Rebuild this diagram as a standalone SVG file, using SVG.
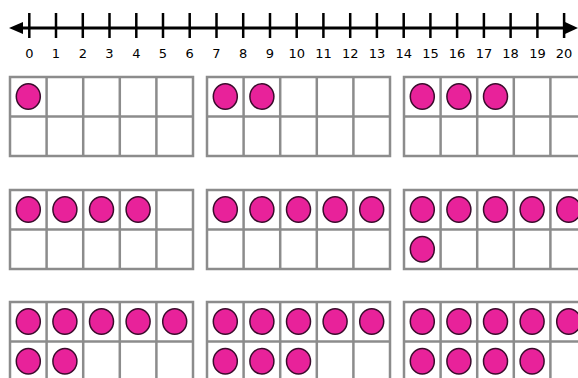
<svg xmlns="http://www.w3.org/2000/svg" xmlns:xlink="http://www.w3.org/1999/xlink" width="578" height="378" viewBox="0 0 578 378">
<style>
.ax{stroke:#000;stroke-width:3;fill:none}
.tk{stroke:#000;stroke-width:2.5}
.lb{font-family:"Comic Sans MS","DejaVu Sans","Liberation Sans",sans-serif;font-size:13px;fill:#000;text-anchor:middle}
.fr{fill:#fff;stroke:#8c8c8c;stroke-width:2.5}
.gl{stroke:#8c8c8c;stroke-width:2.5}
.dot{fill:#e8229a;stroke:#3a0c2c;stroke-width:1.5}
</style>
<defs>
<g id="frame">
<rect class="fr" x="0" y="0" width="183" height="79"/>
<line class="gl" x1="0" y1="39.5" x2="183" y2="39.5"/>
<line class="gl" x1="36.6" y1="0" x2="36.6" y2="79"/>
<line class="gl" x1="73.2" y1="0" x2="73.2" y2="79"/>
<line class="gl" x1="109.8" y1="0" x2="109.8" y2="79"/>
<line class="gl" x1="146.4" y1="0" x2="146.4" y2="79"/>
</g>
<ellipse id="d" class="dot" cx="0" cy="0" rx="12" ry="12.8"/>
</defs>
<rect width="578" height="378" fill="#fff"/>
<g id="numberline">
<line class="ax" x1="18" y1="28" x2="572" y2="28"/>
<polygon points="9,28 23,22 23,34" fill="#000"/>
<polygon points="578,28 565,22 565,34" fill="#000"/>
<g class="tk">
<line x1="29.3" y1="13" x2="29.3" y2="38"/><line x1="56" y1="13" x2="56" y2="38"/><line x1="82.8" y1="13" x2="82.8" y2="38"/><line x1="109.5" y1="13" x2="109.5" y2="38"/><line x1="136.3" y1="13" x2="136.3" y2="38"/><line x1="163" y1="13" x2="163" y2="38"/><line x1="189.7" y1="13" x2="189.7" y2="38"/><line x1="216.5" y1="13" x2="216.5" y2="38"/><line x1="243.2" y1="13" x2="243.2" y2="38"/><line x1="270" y1="13" x2="270" y2="38"/><line x1="296.7" y1="13" x2="296.7" y2="38"/><line x1="323.4" y1="13" x2="323.4" y2="38"/><line x1="350.2" y1="13" x2="350.2" y2="38"/><line x1="376.9" y1="13" x2="376.9" y2="38"/><line x1="403.7" y1="13" x2="403.7" y2="38"/><line x1="430.4" y1="13" x2="430.4" y2="38"/><line x1="457.1" y1="13" x2="457.1" y2="38"/><line x1="483.9" y1="13" x2="483.9" y2="38"/><line x1="510.6" y1="13" x2="510.6" y2="38"/><line x1="537.4" y1="13" x2="537.4" y2="38"/><line x1="564.1" y1="13" x2="564.1" y2="38"/>
</g>
<g class="lb">
<text x="29.3" y="58">0</text><text x="56" y="58">1</text><text x="82.8" y="58">2</text><text x="109.5" y="58">3</text><text x="136.3" y="58">4</text><text x="163" y="58">5</text><text x="189.7" y="58">6</text><text x="216.5" y="58">7</text><text x="243.2" y="58">8</text><text x="270" y="58">9</text><text x="296.7" y="58">10</text><text x="323.4" y="58">11</text><text x="350.2" y="58">12</text><text x="376.9" y="58">13</text><text x="403.7" y="58">14</text><text x="430.4" y="58">15</text><text x="457.1" y="58">16</text><text x="483.9" y="58">17</text><text x="510.6" y="58">18</text><text x="537.4" y="58">19</text><text x="564.1" y="58">20</text>
</g>
</g>
<g id="frame1" transform="translate(10,77)"><use xlink:href="#frame"/>
<use xlink:href="#d" x="18.3" y="19.5"/></g>
<g id="frame2" transform="translate(207,77)"><use xlink:href="#frame"/>
<use xlink:href="#d" x="18.3" y="19.5"/><use xlink:href="#d" x="54.9" y="19.5"/></g>
<g id="frame3" transform="translate(404,77)"><use xlink:href="#frame"/>
<use xlink:href="#d" x="18.3" y="19.5"/><use xlink:href="#d" x="54.9" y="19.5"/><use xlink:href="#d" x="91.5" y="19.5"/></g>
<g id="frame4" transform="translate(10,190)"><use xlink:href="#frame"/>
<use xlink:href="#d" x="18.3" y="19.5"/><use xlink:href="#d" x="54.9" y="19.5"/><use xlink:href="#d" x="91.5" y="19.5"/><use xlink:href="#d" x="128.1" y="19.5"/></g>
<g id="frame5" transform="translate(207,190)"><use xlink:href="#frame"/>
<use xlink:href="#d" x="18.3" y="19.5"/><use xlink:href="#d" x="54.9" y="19.5"/><use xlink:href="#d" x="91.5" y="19.5"/><use xlink:href="#d" x="128.1" y="19.5"/><use xlink:href="#d" x="164.7" y="19.5"/></g>
<g id="frame6" transform="translate(404,190)"><use xlink:href="#frame"/>
<use xlink:href="#d" x="18.3" y="19.5"/><use xlink:href="#d" x="54.9" y="19.5"/><use xlink:href="#d" x="91.5" y="19.5"/><use xlink:href="#d" x="128.1" y="19.5"/><use xlink:href="#d" x="164.7" y="19.5"/>
<use xlink:href="#d" x="18.3" y="59.25"/></g>
<g id="frame7" transform="translate(10,302)"><use xlink:href="#frame"/>
<use xlink:href="#d" x="18.3" y="19.5"/><use xlink:href="#d" x="54.9" y="19.5"/><use xlink:href="#d" x="91.5" y="19.5"/><use xlink:href="#d" x="128.1" y="19.5"/><use xlink:href="#d" x="164.7" y="19.5"/>
<use xlink:href="#d" x="18.3" y="59.25"/><use xlink:href="#d" x="54.9" y="59.25"/></g>
<g id="frame8" transform="translate(207,302)"><use xlink:href="#frame"/>
<use xlink:href="#d" x="18.3" y="19.5"/><use xlink:href="#d" x="54.9" y="19.5"/><use xlink:href="#d" x="91.5" y="19.5"/><use xlink:href="#d" x="128.1" y="19.5"/><use xlink:href="#d" x="164.7" y="19.5"/>
<use xlink:href="#d" x="18.3" y="59.25"/><use xlink:href="#d" x="54.9" y="59.25"/><use xlink:href="#d" x="91.5" y="59.25"/></g>
<g id="frame9" transform="translate(404,302)"><use xlink:href="#frame"/>
<use xlink:href="#d" x="18.3" y="19.5"/><use xlink:href="#d" x="54.9" y="19.5"/><use xlink:href="#d" x="91.5" y="19.5"/><use xlink:href="#d" x="128.1" y="19.5"/><use xlink:href="#d" x="164.7" y="19.5"/>
<use xlink:href="#d" x="18.3" y="59.25"/><use xlink:href="#d" x="54.9" y="59.25"/><use xlink:href="#d" x="91.5" y="59.25"/><use xlink:href="#d" x="128.1" y="59.25"/></g>
</svg>
